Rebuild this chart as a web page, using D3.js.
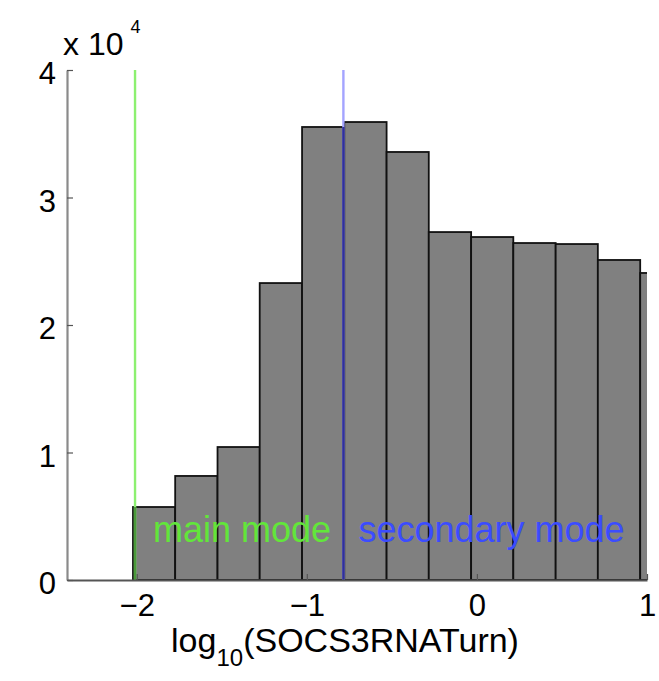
<!DOCTYPE html>
<html><head><meta charset="utf-8">
<script src="https://cdn.jsdelivr.net/npm/d3@7"></script>
<style>
body{margin:0;background:#fff;}
svg{background:#fff;}
text{font-family:"Liberation Sans",Arial,Helvetica,sans-serif;fill:#000;}
</style>
</head><body><svg id="c" width="659" height="681"></svg>
<script>
// ---- data ----
const binEdges = [-2.022,-1.774,-1.525,-1.277,-1.028,-0.780,-0.531,-0.283,-0.034,0.214,0.463,0.711,0.960,1.208];
const binCounts = [5725,8160,10430,23290,35530,35920,33570,27290,26900,26430,26350,25100,24080];
const xTicks = [-2,-1,0,1];
const xTickLabels = ["\u22122","\u22121","0","1"];
const yTicks = [0,10000,20000,30000,40000];
const yTickLabels = ["0","1","2","3","4"];
const modeNames = ["main mode","secondary mode"];
const modeValues = [-2.010,-0.785];
const xDomain = [-2.41,1];
const yDomain = [0,40000];

// ---- styles ----
const lineLight = ["#8cf070","#a4a4ff"];
const lineDark = ["#4a9a3a","#30309a"];
const textColors = ["#62e63a","#3b4cff"];

const svg = d3.select("#c");
const x = d3.scaleLinear().domain(xDomain).range([67,647]);
const y = d3.scaleLinear().domain(yDomain).range([580,70]);

svg.append("defs").append("clipPath").attr("id","plot")
  .append("rect").attr("x",x(xDomain[0])).attr("y",y(yDomain[1]))
  .attr("width",x(xDomain[1])-x(xDomain[0])).attr("height",y(yDomain[0])-y(yDomain[1]));

const bars = binCounts.map((c,i)=>({x0:binEdges[i],x1:binEdges[i+1],c}));
svg.append("g").attr("clip-path","url(#plot)")
  .selectAll("rect").data(bars).join("rect")
  .attr("x",d=>x(d.x0)).attr("width",d=>x(d.x1)-x(d.x0))
  .attr("y",d=>y(d.c)).attr("height",d=>y(0)-y(d.c))
  .attr("fill","#808080").attr("stroke","#111").attr("stroke-width",1.8);

// height of histogram under each mode line
const heightAt = v => { const b = bars.find(d=>v>=d.x0 && v<d.x1); return b ? b.c : 0; };

const gl = svg.append("g");
gl.selectAll("line.light").data(modeValues).join("line").attr("class","light")
  .attr("x1",d=>x(d)).attr("x2",d=>x(d))
  .attr("y1",y(yDomain[0])).attr("y2",y(yDomain[1]))
  .attr("stroke",(d,i)=>lineLight[i]).attr("stroke-width",2.4);
gl.selectAll("line.dark").data(modeValues).join("line").attr("class","dark")
  .attr("x1",d=>x(d)).attr("x2",d=>x(d))
  .attr("y1",y(0)).attr("y2",d=>y(heightAt(d)))
  .attr("stroke",(d,i)=>lineDark[i]).attr("stroke-width",2.4);

svg.append("g").selectAll("text").data(modeValues).join("text")
  .attr("x",(d,i)=>x(d)+(i===0?18:15)).attr("y",y(0)-38)
  .attr("font-size",36).style("fill",(d,i)=>textColors[i])
  .text((d,i)=>modeNames[i]);

// axes
const yAxis = d3.axisLeft(y).tickValues(yTicks).tickFormat((d,i)=>yTickLabels[i])
  .tickSizeInner(-6).tickSizeOuter(0).tickPadding(11);
const gy = svg.append("g").attr("transform",`translate(${x(xDomain[0])},0)`).call(yAxis);
gy.select(".domain").attr("stroke","#8a8a8a").attr("stroke-width",2.2);
gy.selectAll(".tick line").attr("stroke","#555").attr("stroke-width",1.2);
gy.selectAll("text").attr("font-size",31).attr("dy","0.45em")
  .attr("font-family","Liberation Sans, Arial, sans-serif");

const xAxis = d3.axisBottom(x).tickValues(xTicks).tickFormat((d,i)=>xTickLabels[i])
  .tickSizeInner(-6).tickSizeOuter(0);
const gx = svg.append("g").attr("transform",`translate(0,${y(0)})`).call(xAxis);
gx.select(".domain").attr("stroke","#555").attr("stroke-width",2.2);
gx.selectAll(".tick line").attr("stroke","#555").attr("stroke-width",1.2);
gx.selectAll("text").attr("font-size",31).attr("y",36).attr("dy",0)
  .attr("font-family","Liberation Sans, Arial, sans-serif");

// exponent label
const ex = svg.append("text").attr("x",63).attr("y",55).attr("font-size",32);
ex.append("tspan").text("x 10");
ex.append("tspan").attr("font-size",18).attr("dx",7).attr("dy",-22).text("4");

// x label
const xl = svg.append("text").attr("x",345).attr("y",652).attr("font-size",34).attr("text-anchor","middle");
xl.append("tspan").text("log");
xl.append("tspan").attr("font-size",24).attr("dy",14).text("10");
xl.append("tspan").attr("dy",-14).text("(SOCS3RNATurn)");
</script>
</body></html>
